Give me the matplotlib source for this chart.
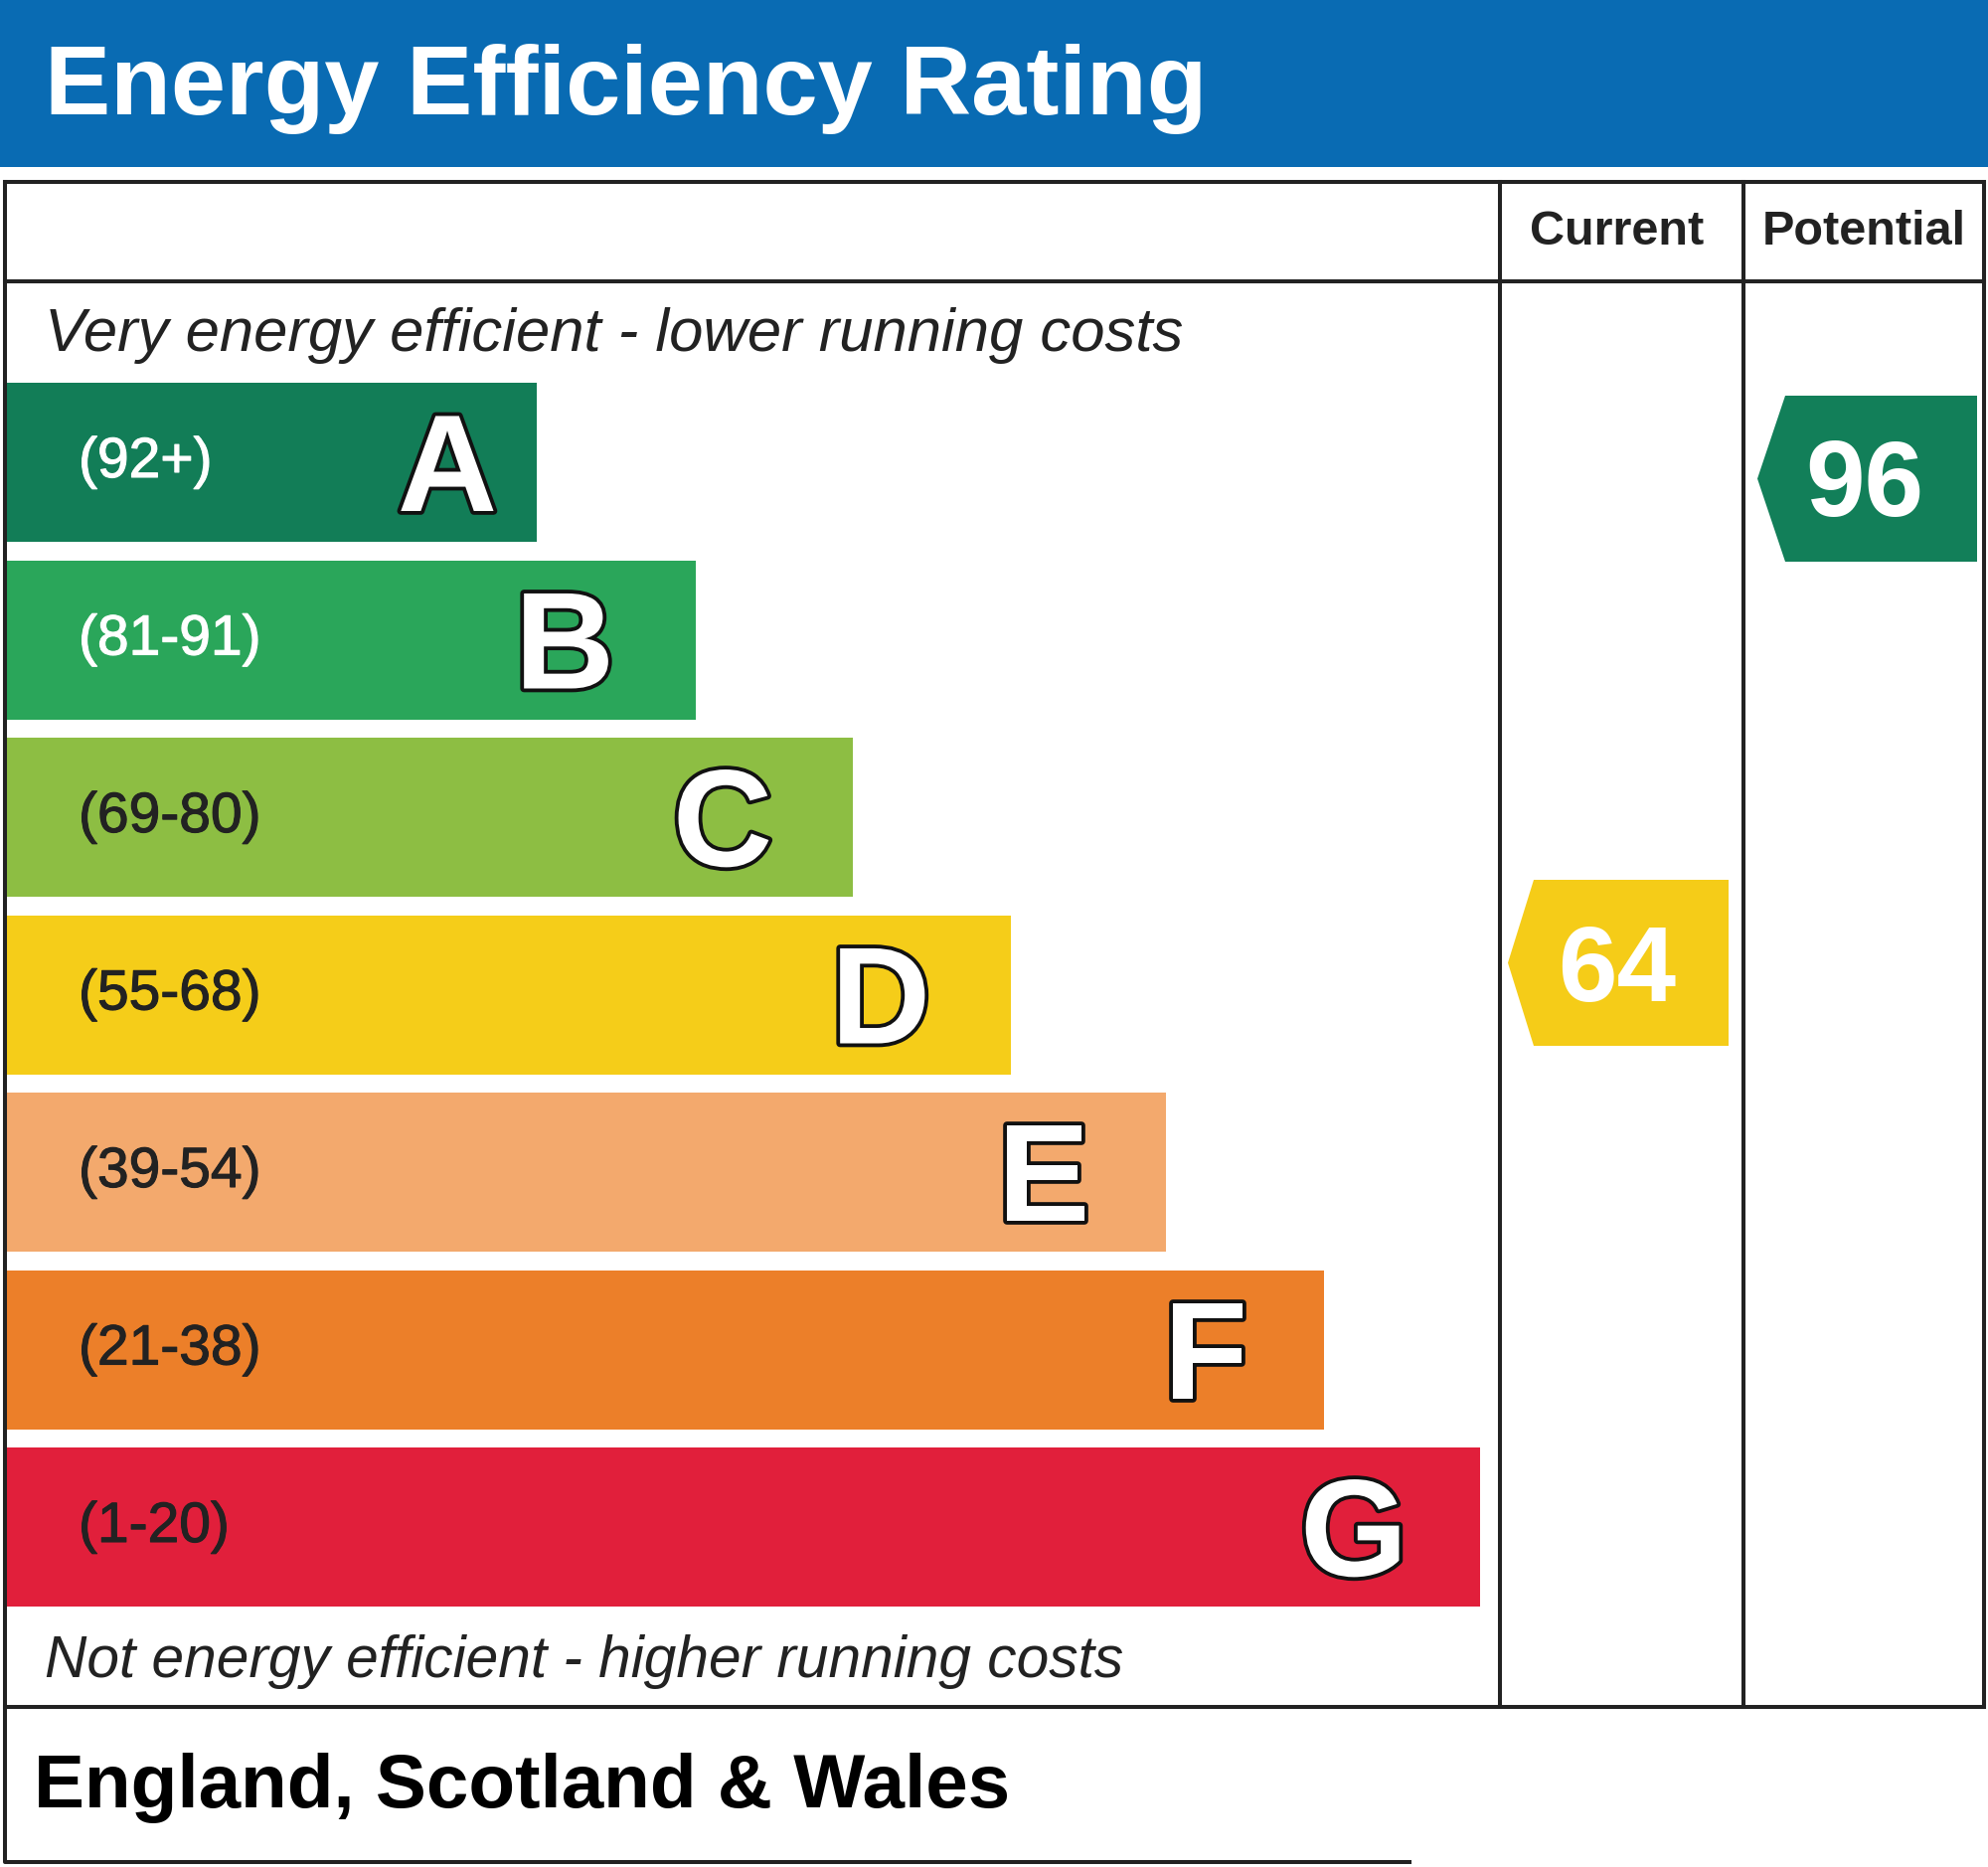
import matplotlib
matplotlib.use("Agg")
import matplotlib.pyplot as plt
from matplotlib.patches import Polygon, Rectangle
import matplotlib.patheffects as pe

plt.rcParams['font.family'] = ['Liberation Sans', 'DejaVu Sans']

# ---- data ----
title = "Energy Efficiency Rating"
bands = ["A", "B", "C", "D", "E", "F", "G"]
ranges = ["(92+)", "(81-91)", "(69-80)", "(55-68)", "(39-54)", "(21-38)", "(1-20)"]
band_colors = ["#127d57", "#2aa65a", "#8dbe43", "#f5cd19", "#f3a96d", "#ec7f29", "#e11f3b"]
range_colors = ["white", "white", "#222222", "#222222", "#222222", "#222222", "#222222"]
bar_ends = [540, 700, 858, 1017, 1173, 1332, 1489]
current_value = 64
current_color = "#f5cc18"
potential_value = 96
potential_color = "#127f59"
col_headers = ["Current", "Potential"]
top_note = "Very energy efficient - lower running costs"
bottom_note = "Not energy efficient - higher running costs"
region = "England, Scotland & Wales"

# ---- layout (pixels) ----
W, H = 2000, 1878
fig = plt.figure(figsize=(W / 100, H / 100), dpi=100)
ax = fig.add_axes([0, 0, 1, 1])
ax.set_xlim(0, W)
ax.set_ylim(H, 0)
ax.axis("off")
fig.patch.set_facecolor("white")

lw = 2.9
# header
ax.add_patch(Rectangle((0, 0), W, 168, facecolor="#096bb3", edgecolor="none"))
ax.text(45, 115, title, color="white", fontsize=71.5, fontweight="bold", va="baseline", ha="left")

# table frame
L, R, T, HB, B = 5, 1996, 183, 283, 1717
c1, c2 = 1509, 1754
ax.plot([L, R, R, L, L], [T, T, B, B, T], color="#222222", lw=lw, solid_joinstyle="miter")
ax.plot([L, R], [HB, HB], color="#222222", lw=lw)
ax.plot([c1, c1], [T, B], color="#222222", lw=lw)
ax.plot([c2, c2], [T, B], color="#222222", lw=lw)
# bottom box
ax.plot([L, L, 1418], [B, 1873, 1873], color="#222222", lw=lw)

ax.text((c1 + c2) / 2 - 5, 233, col_headers[0], fontsize=35, fontweight="bold", color="#222222",
        ha="center", va="center")
ax.text((c2 + R) / 2, 233, col_headers[1], fontsize=35, fontweight="bold", color="#222222",
        ha="center", va="center")

ax.text(45, 353, top_note, fontsize=44.4, style="italic", color="#222222", ha="left", va="baseline")
ax.text(45, 1687, bottom_note, fontsize=42.2, style="italic", color="#222222", ha="left", va="baseline")
ax.text(34, 1818, region, fontsize=55, fontweight="bold", color="black", ha="left", va="baseline")

# bars
centers = [465 + 178.5 * i for i in range(len(bands))]
widths = [e - L for e in bar_ends]
ax.barh(centers, widths, height=160, left=L, color=band_colors, edgecolor="none")

letter_x = [450, 568, 727, 886, 1050, 1213, 1362]
for i, (b, r) in enumerate(zip(bands, ranges)):
    ax.text(79, centers[i], r, fontsize=41, color=range_colors[i], ha="left", va="center",
            path_effects=[pe.Stroke(linewidth=0.8, foreground=range_colors[i]), pe.Normal()])
    ax.text(letter_x[i], centers[i] + 49, b, fontsize=100, fontweight="bold", color="white",
            ha="center", va="baseline",
            path_effects=[pe.Stroke(linewidth=5.5, foreground="#111111"), pe.Normal()])

# arrows
def arrow(x_tip, x_body, x_right, y_top, y_bot, color, value, dx):
    ym = (y_top + y_bot) / 2
    ax.add_patch(Polygon([(x_tip, ym), (x_body, y_top), (x_right, y_top), (x_right, y_bot), (x_body, y_bot)],
                         closed=True, facecolor=color, edgecolor="none"))
    ax.text((x_body + x_right) / 2 + dx, ym + 38, str(value), fontsize=77, fontweight="bold",
            color="white", ha="center", va="baseline")

arrow(1517, 1543, 1739, 885, 1052, current_color, current_value, -14)
arrow(1768, 1796, 1989, 398, 565, potential_color, potential_value, -17)

fig.savefig("out.png", dpi=100, facecolor="white")
